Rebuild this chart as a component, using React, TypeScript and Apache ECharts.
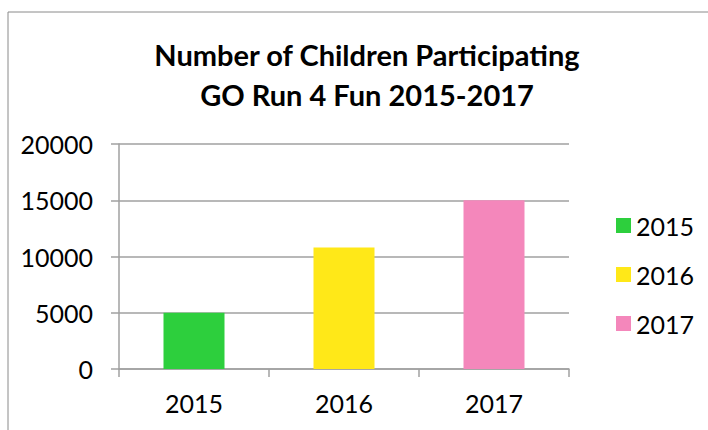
import React, { useEffect, useRef } from "react";
import * as echarts from "echarts";

const categories = ["2015", "2016", "2017"];
const seriesNames = ["2015", "2016", "2017"];
const values2015 = [5000, null, null];
const values2016 = [null, 10800, null];
const values2017 = [null, null, 15000];
const colors = ["#2dcf3d", "#ffe818", "#f487bb"];
const yTicks = { min: 0, max: 20000, interval: 5000 };
const titleText = "Number of Children Participating\nGO Run 4 Fun 2015-2017";

const FONT = "Lato, 'Open Sans', sans-serif";

export default function App() {
  const ref = useRef<HTMLDivElement>(null);
  useEffect(() => {
    if (!ref.current) return;
    const chart = echarts.init(ref.current, undefined, { renderer: "svg" });
    const allValues = [values2015, values2016, values2017];
    chart.setOption({
      animation: false,
      backgroundColor: "#ffffff",
      textStyle: { fontFamily: FONT },
      title: {
        text: titleText,
        left: 362,
        textAlign: "center",
        top: 29,
        textStyle: {
          fontFamily: FONT,
          fontWeight: "bold",
          fontSize: 29,
          lineHeight: 40,
          color: "#000",
        },
      },
      graphic: [
        {
          type: "rect",
          shape: { x: 8, y: 12, width: 760, height: 500 },
          style: { fill: "none", stroke: "#8a8a8a", lineWidth: 1 },
          silent: true,
          z: -1,
        },
      ],
      legend: {
        orient: "vertical",
        left: 611,
        top: 208,
        itemWidth: 15,
        itemHeight: 15,
        itemGap: 24,
        itemTextGap: 5,
        icon: "rect",
        data: seriesNames,
        textStyle: { fontFamily: FONT, fontSize: 25, color: "#000" },
      },
      grid: { left: 119, right: 139, top: 144, bottom: 61 },
      xAxis: {
        type: "category",
        data: categories,
        axisLine: { lineStyle: { color: "#a0a0a0", width: 1.5 } },
        axisTick: { show: true, length: 8, alignWithLabel: false, lineStyle: { color: "#a0a0a0", width: 1.5 } },
        axisLabel: { fontFamily: FONT, fontSize: 25, color: "#000", margin: 21 },
      },
      yAxis: {
        type: "value",
        min: yTicks.min,
        max: yTicks.max,
        interval: yTicks.interval,
        axisLine: { show: true, lineStyle: { color: "#a0a0a0", width: 1.5 } },
        axisTick: { show: true, length: 8, lineStyle: { color: "#a0a0a0", width: 1.5 } },
        splitLine: { lineStyle: { color: "#a0a0a0", width: 1.5 } },
        axisLabel: {
          fontFamily: FONT,
          fontSize: 25,
          color: "#000",
          margin: 26,
          formatter: (v: number) => String(v),
        },
      },
      series: seriesNames.map((name, i) => ({
        name,
        type: "bar",
        stack: "all",
        barWidth: 61,
        data: allValues[i],
        itemStyle: { color: colors[i] },
      })),
    });
    return () => chart.dispose();
  }, []);
  return (
    <div
      ref={ref}
      style={{ position: "fixed", left: 0, top: 0, width: 708, height: 430 }}
    />
  );
}
